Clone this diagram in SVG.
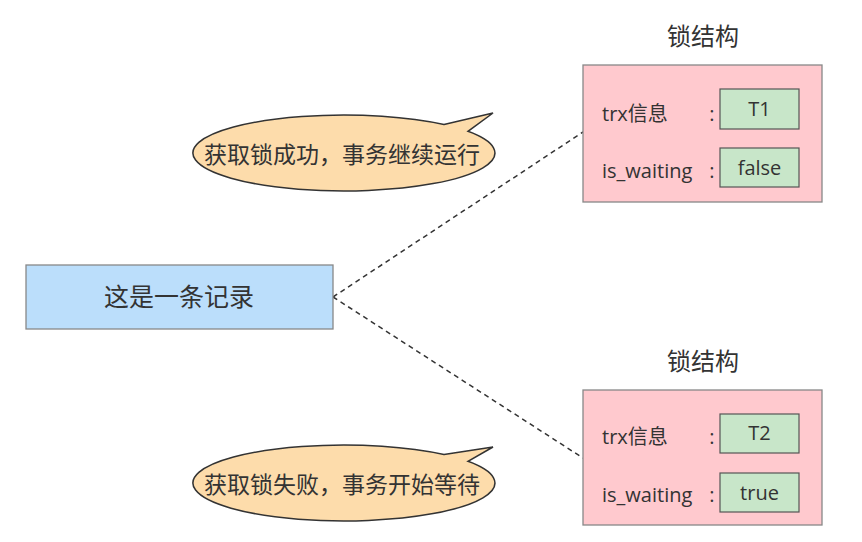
<svg xmlns="http://www.w3.org/2000/svg" width="862" height="542" viewBox="0 0 862 542">
<style>
text{font-family:"Open Sans","Noto Sans CJK SC",sans-serif;fill:#333;}
.cn{font-family:"Noto Sans CJK SC",sans-serif;}
.lock{fill:#ffc9ce;stroke:#888;stroke-width:1.3;}
.val{fill:#c8e6c9;stroke:#555;stroke-width:1.2;}
.bub{fill:#fddcab;stroke:#333;stroke-width:1.5;}
.lbl{font-size:20px;}
.conn{stroke:#333;stroke-width:1.5;stroke-dasharray:5,4;fill:none;}
</style>
<rect width="862" height="542" fill="#fff"/>
<g id="connectors">
<line class="conn" x1="333" y1="297" x2="583" y2="132"/>
<line class="conn" x1="333" y1="297" x2="583" y2="458"/>
</g>
<g id="record">
<rect x="26" y="265" width="307" height="64" fill="#bbdefb" stroke="#888" stroke-width="1.3"/>
<text class="cn" x="179" y="306" font-size="25" text-anchor="middle">这是一条记录</text>
</g>
<g id="lock1">
<text class="cn" x="703" y="45" font-size="24" text-anchor="middle">锁结构</text>
<rect class="lock" x="583" y="65" width="239" height="137"/>
<text class="lbl" x="602" y="121">trx信息</text>
<text class="lbl" x="712" y="121" text-anchor="middle">:</text>
<rect class="val" x="720" y="89" width="79" height="40"/>
<text class="lbl" x="759.500" y="116" text-anchor="middle">T1</text>
<text class="lbl" x="602" y="178">is_waiting</text>
<text class="lbl" x="712" y="178" text-anchor="middle">:</text>
<rect class="val" x="720" y="148" width="79" height="39"/>
<text class="lbl" x="759.500" y="175" text-anchor="middle">false</text>
</g>
<g id="lock2">
<text class="cn" x="703" y="370" font-size="24" text-anchor="middle">锁结构</text>
<rect class="lock" x="583" y="390" width="239" height="135"/>
<text class="lbl" x="602" y="444">trx信息</text>
<text class="lbl" x="712" y="444" text-anchor="middle">:</text>
<rect class="val" x="720" y="414" width="79" height="39"/>
<text class="lbl" x="759.500" y="440" text-anchor="middle">T2</text>
<text class="lbl" x="602" y="502">is_waiting</text>
<text class="lbl" x="712" y="502" text-anchor="middle">:</text>
<rect class="val" x="720" y="473" width="79" height="39"/>
<text class="lbl" x="759.500" y="500" text-anchor="middle">true</text>
</g>
<g id="bubble1">
<path class="bub" d="M 444 124.500 L 493 113 L 468 131.300 A 151 38 0 1 1 444 124.500 Z"/>
<text class="cn" x="342" y="163" font-size="23" text-anchor="middle">获取锁成功，事务继续运行</text>
</g>
<g id="bubble2">
<path class="bub" d="M 444 454.500 L 493 447 L 468 461.300 A 151 38 0 1 1 444 454.500 Z"/>
<text class="cn" x="342" y="493" font-size="23" text-anchor="middle">获取锁失败，事务开始等待</text>
</g>
</svg>
